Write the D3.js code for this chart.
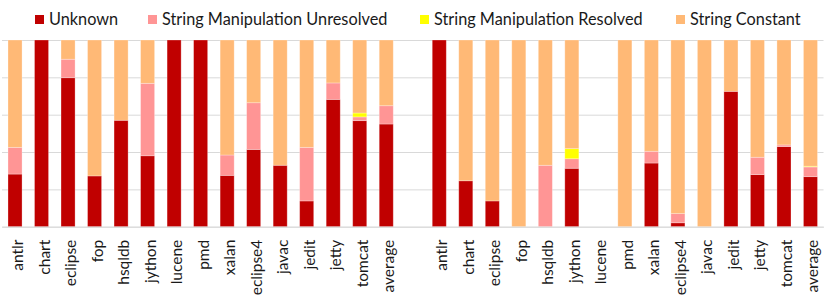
<!DOCTYPE html>
<html><head><meta charset="utf-8">
<script src="https://cdn.jsdelivr.net/npm/d3@7"></script>
<style>
html,body{margin:0;padding:0;background:#fff;}
svg{display:block;font-family:Lato,"Open Sans",sans-serif;}
</style></head>
<body><svg id="chart" width="831" height="301"></svg>
<script>
const categories = ["antlr","chart","eclipse","fop","hsqldb","jython","lucene","pmd","xalan","eclipse4","javac","jedit","jetty","tomcat","average"];
const seriesNames = ["Unknown","String Manipulation Unresolved","String Manipulation Resolved","String Constant"];
const seriesColors = ["#C00000","#FF9595","#FFFF00","#FFB976"];
const yTicks = [0,20,40,60,80,100];

// Group 1 (percent)
const unknown1    = [28.2,100,79.8,27.2,57,38,100,100,27.5,41.4,32.9,13.8,68.2,56.8,55];
const unresolved1 = [14.3,0,9.9,0,0,38.8,0,0,10.9,25,0,28.7,8.8,2,9.8];
const resolved1   = [0,0,0,0,0,0,0,0,0,0,0,0,0,2.1,0];
const constant1   = [57.5,0,10.3,72.8,43,23.2,0,0,61.6,33.6,67.1,57.5,23,39.1,35.2];

// Group 2 (percent)
const unknown2    = [100,24.6,13.8,0,0,31.3,0,0,34.1,2.1,0,72.5,27.9,42.9,26.8];
const unresolved2 = [0,0,0,0,32.9,5.1,0,0,6.3,4.9,0,0,9.3,0.9,5.2];
const resolved2   = [0,0,0,0,0,5.4,0,0,0,0,0,0,0,0,0.4];
const constant2   = [0,75.4,86.2,100,67.1,58.2,0,100,59.6,93,100,27.5,62.8,56.2,67.6];

const groups = [
  {id:"g1", series:[unknown1,unresolved1,resolved1,constant1]},
  {id:"g2", series:[unknown2,unresolved2,resolved2,constant2]}
];

const rows = [];
groups.forEach((g,gi)=>{
  categories.forEach((c,i)=>{
    const r = {key:g.id+"-"+c, label:c};
    seriesNames.forEach((s,si)=>{ r[s]=g.series[si][i]; });
    rows.push(r);
  });
  if(gi===0) rows.push({key:"gap", label:"", "Unknown":0,"String Manipulation Unresolved":0,"String Manipulation Resolved":0,"String Constant":0});
});

const svg = d3.select("#chart");
const x = d3.scaleBand().domain(rows.map(r=>r.key)).range([2,823.5]).paddingInner(0.47).paddingOuter(0.226);
const y = d3.scaleLinear().domain([0,100]).range([226.7,40]);

// gridlines
svg.append("g").attr("transform","translate(2,0)")
  .call(d3.axisLeft(y).tickValues(yTicks).tickSize(-(823.5-2)).tickFormat(""))
  .call(g=>g.select(".domain").remove())
  .call(g=>g.selectAll("line").attr("stroke","#d9d9d9").attr("stroke-width",1));

const stack = d3.stack().keys(seriesNames)(rows);
svg.append("g").selectAll("g").data(stack).join("g")
  .attr("fill",(d,i)=>seriesColors[i])
  .selectAll("rect").data(d=>d.filter(p=>p[1]-p[0]>0)).join("rect")
  .attr("x",d=>x(d.data.key))
  .attr("width",x.bandwidth())
  .attr("y",d=>y(d[1]))
  .attr("height",d=>y(d[0])-y(d[1]))
  .attr("stroke","rgba(255,255,255,0.35)")
  .attr("stroke-width",0.8);

// bottom axis
const xa = svg.append("g").attr("transform","translate(0,226.7)")
  .call(d3.axisBottom(x).tickSize(0).tickFormat(k=>{const r=rows.find(r=>r.key===k);return r.label;}));
xa.select(".domain").attr("stroke","#d9d9d9");
xa.selectAll("text")
  .attr("font-family","Lato, 'Open Sans', sans-serif")
  .attr("font-size","15.5px")
  .attr("fill","#1a1a1a")
  .attr("text-anchor","end")
  .attr("dy",null).attr("y",null)
  .attr("transform","translate(8,13) rotate(-90)");

// legend
const legendX = [35,148,420,676];
const leg = svg.append("g").selectAll("g").data(seriesNames).join("g")
  .attr("transform",(d,i)=>`translate(${legendX[i]},15)`);
leg.append("rect").attr("width",9).attr("height",9).attr("fill",(d,i)=>seriesColors[i]);
leg.append("text").attr("x",14).attr("y",10).attr("font-size","16.3px").attr("fill","#1a1a1a").text(d=>d);
</script></body></html>
